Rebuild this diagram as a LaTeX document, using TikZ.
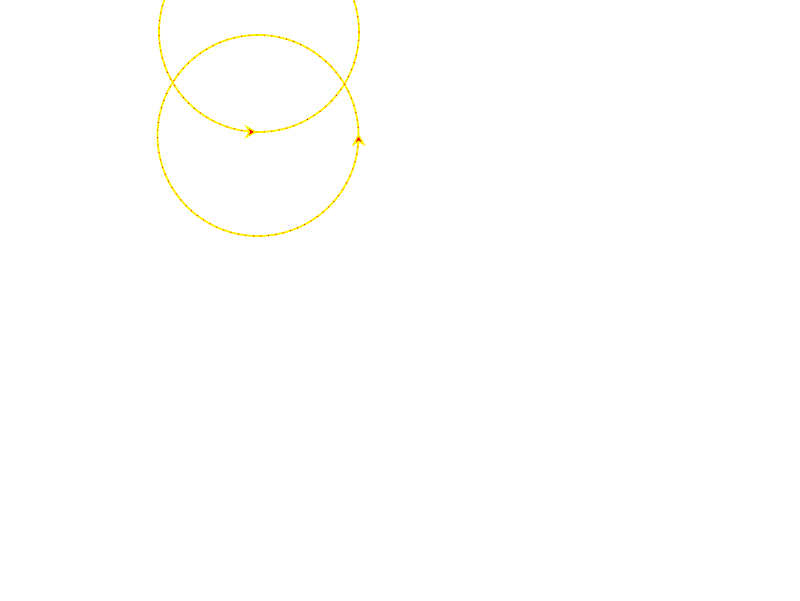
\documentclass[tikz,border=0pt]{standalone}
\usetikzlibrary{arrows.meta,decorations.markings}
\begin{document}
\begin{tikzpicture}[
  ring/.style={draw=yellow, line width=0.5pt,
    postaction={draw=red, line width=0.25pt, dash pattern=on 0.25pt off 1.9pt}},
  arrowat/.style={postaction={decorate, decoration={markings,
    mark=at position #1 with {\arrow[yellow, line width=0.4pt]{Stealth[length=3.6pt, width=4pt, fill=red]}}}}}
]
\useasboundingbox (0,0) rectangle (8,-6);
\clip (0,0) rectangle (8,-6);
\fill[white] (0,0) rectangle (8,-6);
\coordinate (cu) at (2.59,-0.32);
\coordinate (cl) at (2.58,-1.355);
\draw[ring, arrowat=0.747] (cu) circle[radius=1.0];
\draw[ring, arrowat=0.003] (cl) circle[radius=1.005];
\end{tikzpicture}
\end{document}
